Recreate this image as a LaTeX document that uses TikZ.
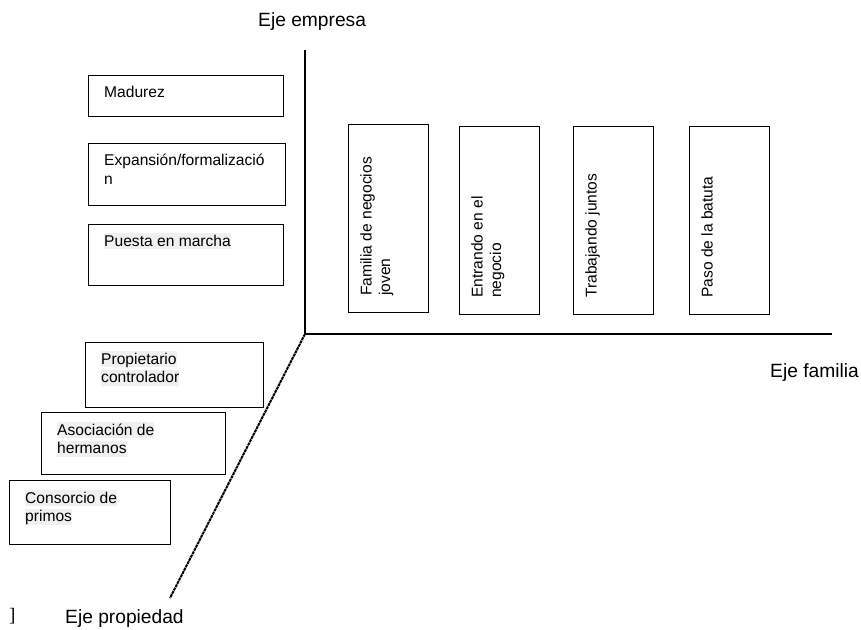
\documentclass[tikz,border=0pt]{standalone}
\usepackage{fontspec}
\setmainfont{Liberation Sans}
\newfontfamily\serifmark{Liberation Serif}
\usepackage{tikz}
\newcommand{\marked}[1]{{\setlength{\fboxsep}{0pt}\colorbox{black!6}{\rule[-3pt]{0pt}{16pt}#1}}}
\newcommand{\stagebox}[7][-11pt]{
  \node[stage, minimum width=#5, minimum height=#6] (#2) at (#3,#4) {};
  \node[stagetext] (#2-txt) at ([shift={(16pt,#1)}]#2.north west) {#7};
}
\newcommand{\phasebox}[6]{
  \node[stage, minimum width=#4, minimum height=#5] (#1) at (#2,#3) {};
  \node[stagetext, rotate=90] (#1-txt) at ([shift={(12pt,16pt)}]#1.south west) {#6};
}
\tikzset{stage/.style = {draw, line width=0.9pt, anchor=north west,
                         inner sep=0pt, outer sep=0pt},
         stagetext/.style = {anchor=north west, inner sep=0pt, align=left,
                             font=\fontsize{15.6}{18.5}\selectfont},
         axislabel/.style = {anchor=west, inner sep=0pt,
                             font=\fontsize{19.2}{22}\selectfont}}

\begin{document}
\begin{tikzpicture}[x=1pt, y=-1pt]
  \useasboundingbox (0,0) rectangle (861,629);
  % axes
  \coordinate (origin) at (305,334);
  \coordinate (top) at (305,50);
  \coordinate (right) at (832,334);
  \coordinate (bottom) at (170,598);
  \draw[line width=1.8pt] (top) -- (origin) -- (right);
  \draw[line width=2pt, dash pattern=on 3pt off 0.7pt] (origin) -- (bottom);
  \node[axislabel] (empresa) at (258,22) {Eje empresa};
  \node[axislabel] (familia) at (770,373) {Eje familia};
  \node[axislabel] (propiedad) at (65,619) {Eje propiedad};
  \node[anchor=west, inner sep=0pt, font=\serifmark\fontsize{19}{22}\selectfont] (mark) at (9,616) {]};
  % empresa
  \stagebox{madurez}{88}{75}{195pt}{41pt}{Madurez}
  \stagebox{expansion}{88}{143}{197pt}{62pt}{Expansión/formalizació\\n}
  \stagebox[-9pt]{marcha}{88}{224}{195pt}{61pt}{\marked{Puesta en marcha}}
  % propiedad
  \stagebox[-9pt]{propietario}{85}{342}{178pt}{65pt}{\marked{Propietario}\\\marked{controlador}}
  \stagebox[-10pt]{hermanos}{41}{412}{184pt}{62pt}{\marked{Asociación de}\\\marked{hermanos}}
  \stagebox[-10pt]{primos}{9}{480}{161pt}{64pt}{\marked{Consorcio de}\\\marked{primos}}
  % familia
  \phasebox{joven}{348}{124}{80pt}{188pt}{Familia de negocios\\joven}
  \phasebox{entrando}{459}{126}{80pt}{188pt}{Entrando en el\\negocio}
  \phasebox{juntos}{573}{126}{80pt}{188pt}{Trabajando juntos}
  \phasebox{batuta}{689}{126}{80pt}{188pt}{Paso de la batuta}
\end{tikzpicture}
\end{document}
